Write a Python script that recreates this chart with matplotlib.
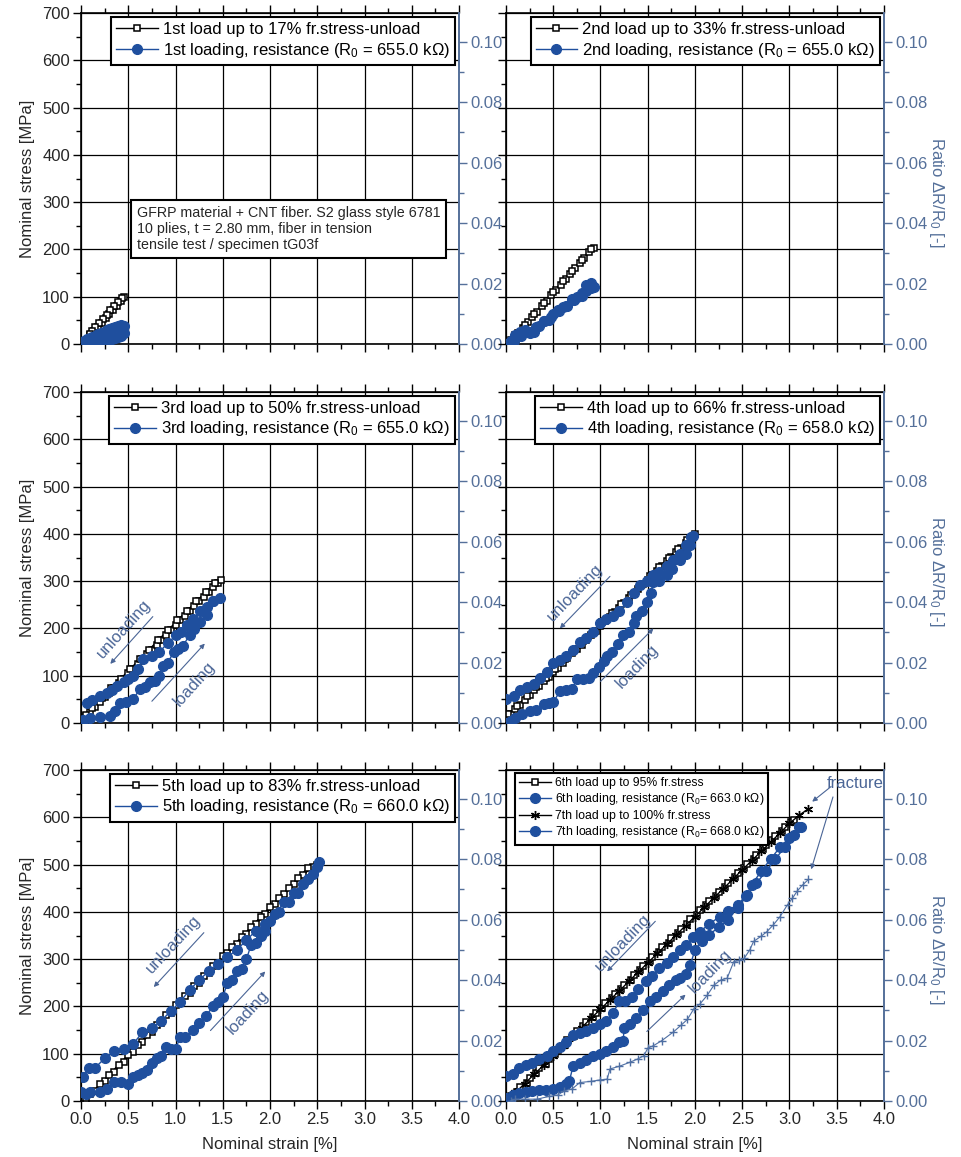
import matplotlib.pyplot as plt
from matplotlib.lines import Line2D
from matplotlib.ticker import MultipleLocator, FormatStrFormatter

plt.rcParams['font.family'] = ['Liberation Sans', 'DejaVu Sans']
plt.rcParams['mathtext.fontset'] = 'custom'
plt.rcParams['mathtext.rm'] = 'Liberation Sans'
plt.rcParams['mathtext.it'] = 'Liberation Sans:italic'

BLUE = '#1f4f9e'
PLUS = '#4f6fa3'
RCOL = '#55709a'
ANN = '#4a6596'
TXT = '#262626'
RMAX = 0.1095

# ---- 1st cycle (17 %) ----
s1_x = [0.05, 0.10, 0.14, 0.18, 0.22, 0.26, 0.30, 0.34, 0.38, 0.42, 0.45,
        0.43, 0.39, 0.35, 0.31, 0.27, 0.23, 0.19, 0.15, 0.12, 0.10]
s1_y = [3, 18, 27, 36, 45, 54, 63, 72, 81, 91, 100,
        97, 89, 80, 71, 62, 53, 44, 35, 28, 22]
r1_x = [0.00, 0.03, 0.06, 0.09, 0.12, 0.15, 0.18, 0.21, 0.24, 0.27, 0.30, 0.33, 0.36, 0.39,
        0.42, 0.45, 0.45, 0.42, 0.39, 0.36, 0.33, 0.30, 0.27, 0.24, 0.21, 0.18, 0.15, 0.12,
        0.09, 0.06, 0.03, 0.00]
r1_y = [0.0000, 0.0002, 0.0003, 0.0003, 0.0005, 0.0008, 0.0008, 0.0010, 0.0012, 0.0012,
        0.0015, 0.0018, 0.0020, 0.0022, 0.0025, 0.0035, 0.0060, 0.0062, 0.0058, 0.0055,
        0.0052, 0.0048, 0.0045, 0.0040, 0.0036, 0.0032, 0.0028, 0.0024, 0.0020, 0.0015,
        0.0010, 0.0005]

# ---- 2nd cycle (33 %) ----
s2_x = [0.03, 0.08, 0.13, 0.18, 0.23, 0.28, 0.33, 0.38, 0.43, 0.48, 0.53, 0.58, 0.63, 0.68,
        0.73, 0.78, 0.83, 0.88, 0.93,
        0.90, 0.80, 0.70, 0.60, 0.50, 0.40, 0.30, 0.20, 0.10, 0.05]
s2_y = [0, 11, 23, 34, 46, 57, 68, 80, 91, 103, 114, 125, 137, 148,
        160, 171, 182, 194, 203,
        200, 178, 155, 133, 110, 87, 64, 41, 19, 8]
r2_x = [0.00, 0.05, 0.10, 0.15, 0.20, 0.25, 0.30, 0.35, 0.40, 0.45, 0.50, 0.55, 0.60, 0.65,
        0.70, 0.75, 0.80, 0.85, 0.90, 0.93, 0.90, 0.85, 0.80, 0.72, 0.64, 0.56, 0.48, 0.40,
        0.32, 0.24, 0.16, 0.08, 0.02]
r2_y = [0.0000, 0.0010, 0.0030, 0.0040, 0.0045, 0.0035, 0.0040, 0.0060, 0.0075, 0.0080,
        0.0100, 0.0113, 0.0124, 0.0125, 0.0150, 0.0157, 0.0168, 0.0195, 0.0201, 0.0190,
        0.0185, 0.0175, 0.0160, 0.0145, 0.0125, 0.0110, 0.0090, 0.0075, 0.0055, 0.0040,
        0.0025, 0.0010, 0.0000]

# ---- 3rd cycle (50 %) ----
s3_x = [0.05, 0.10, 0.15, 0.20, 0.25, 0.30, 0.35, 0.40, 0.45, 0.50, 0.55, 0.60, 0.65, 0.70,
        0.75, 0.80, 0.85, 0.90, 0.95, 1.00, 1.05, 1.10, 1.15, 1.20, 1.25, 1.30, 1.35, 1.40,
        1.45, 1.48,
        1.42, 1.32, 1.22, 1.12, 1.02, 0.92, 0.82, 0.72, 0.62, 0.52, 0.42, 0.32, 0.22, 0.12,
        0.05]
s3_y = [15, 24, 33, 44, 54, 64, 74, 84, 94, 105, 115, 125, 135, 145,
        155, 166, 176, 186, 196, 207, 217, 227, 237, 247, 257, 267, 277, 287,
        297, 303,
        297, 277, 257, 237, 217, 196, 176, 155, 135, 114, 94, 73, 52, 32,
        16]
r3_x = [0.02, 0.10, 0.20, 0.31, 0.36, 0.41, 0.48, 0.55, 0.62, 0.68, 0.73, 0.78, 0.83, 0.87,
        0.92, 0.98, 1.03, 1.08, 1.15, 1.20, 1.26, 1.33, 1.40, 1.47,
        1.40, 1.33, 1.26, 1.19, 1.12, 1.06, 1.01, 0.92, 0.83, 0.75, 0.66, 0.60, 0.55, 0.50,
        0.45, 0.38, 0.33, 0.28, 0.20, 0.12, 0.06]
r3_y = [0.0011, 0.0015, 0.0020, 0.0022, 0.0040, 0.0067, 0.0070, 0.0078, 0.0111, 0.0120,
        0.0135, 0.0140, 0.0156, 0.0189, 0.0200, 0.0235, 0.0245, 0.0256, 0.0291, 0.0310,
        0.0335, 0.0358, 0.0402, 0.0413,
        0.0402, 0.0385, 0.0369, 0.0345, 0.0324, 0.0300, 0.0291, 0.0265, 0.0235, 0.0220,
        0.0213, 0.0180, 0.0156, 0.0145, 0.0135, 0.0124, 0.0110, 0.0100, 0.0089, 0.0075,
        0.0067]

# ---- 4th cycle (66 %) ----
s4_x = [0.00, 0.05, 0.10, 0.15, 0.20, 0.25, 0.30, 0.35, 0.40, 0.45, 0.50, 0.55, 0.60, 0.65,
        0.70, 0.75, 0.80, 0.85, 0.90, 0.95, 1.00, 1.05, 1.10, 1.15, 1.20, 1.25, 1.30, 1.35,
        1.40, 1.45, 1.50, 1.55, 1.60, 1.65, 1.70, 1.75, 1.80, 1.85, 1.90, 1.95, 2.00,
        1.92, 1.82, 1.72, 1.62, 1.52, 1.42, 1.32, 1.22, 1.12, 1.02, 0.92, 0.82, 0.72, 0.62,
        0.52, 0.42, 0.32, 0.22, 0.12, 0.02]
s4_y = [10, 20, 30, 39, 49, 59, 69, 78, 88, 98, 108, 117, 127, 137,
        147, 156, 166, 176, 186, 195, 205, 215, 225, 234, 244, 254, 264, 273,
        283, 293, 303, 312, 322, 332, 342, 351, 361, 371, 381, 390, 400,
        388, 369, 349, 330, 310, 291, 271, 252, 232, 213, 193, 174, 154, 135,
        115, 96, 76, 57, 37, 18]
r4_x = [0.00, 0.05, 0.10, 0.17, 0.25, 0.32, 0.40, 0.45, 0.50, 0.57, 0.63, 0.70, 0.75, 0.82,
        0.88, 0.92, 0.98, 1.04, 1.07, 1.12, 1.18, 1.24, 1.30, 1.35, 1.38, 1.44, 1.49, 1.53,
        1.56, 1.62, 1.70, 1.76, 1.84, 1.90, 1.95, 1.98,
        1.96, 1.90, 1.84, 1.77, 1.70, 1.62, 1.56, 1.49, 1.42, 1.35, 1.28, 1.20, 1.13, 1.06,
        1.00, 0.92, 0.85, 0.78, 0.71, 0.64, 0.57, 0.50, 0.43, 0.36, 0.30, 0.22, 0.15, 0.08,
        0.00]
r4_y = [0.0000, 0.0005, 0.0017, 0.0030, 0.0040, 0.0042, 0.0062, 0.0067, 0.0068, 0.0105,
        0.0108, 0.0112, 0.0144, 0.0147, 0.0150, 0.0167, 0.0185, 0.0205, 0.0220, 0.0235,
        0.0260, 0.0290, 0.0300, 0.0330, 0.0355, 0.0370, 0.0400, 0.0430, 0.0467, 0.0470,
        0.0490, 0.0510, 0.0540, 0.0560, 0.0590, 0.0620,
        0.0615, 0.0590, 0.0560, 0.0540, 0.0520, 0.0500, 0.0490, 0.0470, 0.0456, 0.0430,
        0.0400, 0.0370, 0.0355, 0.0345, 0.0330, 0.0300, 0.0280, 0.0267, 0.0240, 0.0220,
        0.0210, 0.0200, 0.0170, 0.0150, 0.0130, 0.0120, 0.0110, 0.0090, 0.0078]

# ---- 5th cycle (83 %) ----
s5_x = [0.05, 0.15, 0.25, 0.35, 0.45, 0.55, 0.65, 0.75, 0.85, 0.95, 1.05, 1.15, 1.25, 1.35,
        1.45, 1.55, 1.65, 1.75, 1.85, 1.95, 2.05, 2.15, 2.25, 2.35, 2.45, 2.52,
        2.50, 2.40, 2.30, 2.20, 2.10, 2.00, 1.90, 1.80, 1.70, 1.60, 1.50, 1.40, 1.30, 1.20,
        1.10, 1.00, 0.90, 0.80, 0.70, 0.60, 0.50, 0.40, 0.30, 0.20, 0.10]
s5_y = [0, 21, 42, 62, 83, 104, 125, 146, 166, 187, 208, 229, 250, 270,
        291, 312, 333, 354, 374, 395, 416, 437, 458, 478, 495, 502,
        500, 493, 472, 451, 430, 410, 389, 368, 347, 326, 306, 285, 264, 243,
        222, 202, 181, 160, 139, 118, 98, 77, 56, 35, 14]
r5_x = [0.00, 0.05, 0.10, 0.20, 0.27, 0.35, 0.42, 0.50, 0.55, 0.60, 0.65, 0.70, 0.75, 0.80,
        0.85, 0.90, 0.95, 1.00, 1.05, 1.10, 1.18, 1.25, 1.32, 1.40, 1.45, 1.50, 1.55, 1.60,
        1.65, 1.70, 1.75, 1.80, 1.85, 1.90, 1.95, 2.00, 2.10, 2.20, 2.30, 2.40, 2.50,
        2.52, 2.45, 2.35, 2.25, 2.15, 2.05, 1.95, 1.85, 1.75, 1.65, 1.55, 1.45, 1.35, 1.25,
        1.15, 1.05, 0.95, 0.85, 0.75, 0.65, 0.55, 0.45, 0.35, 0.25, 0.15, 0.08, 0.02]
r5_y = [0.0031, 0.0023, 0.0031, 0.0031, 0.0039, 0.0063, 0.0063, 0.0055, 0.0078, 0.0086,
        0.0094, 0.0102, 0.0125, 0.0141, 0.0149, 0.0180, 0.0172, 0.0172, 0.0211, 0.0211,
        0.0235, 0.0258, 0.0282, 0.0313, 0.0328, 0.0344, 0.0391, 0.0399, 0.0430, 0.0438,
        0.0469, 0.0516, 0.0524, 0.0547, 0.0563, 0.0594, 0.0626, 0.0657, 0.0688, 0.0735,
        0.0774,
        0.0790, 0.0751, 0.0719, 0.0688, 0.0657, 0.0618, 0.0587, 0.0563, 0.0532, 0.0500,
        0.0477, 0.0454, 0.0430, 0.0399, 0.0368, 0.0328, 0.0297, 0.0266, 0.0242, 0.0227,
        0.0188, 0.0172, 0.0164, 0.0141, 0.0110, 0.0110, 0.0078]

# ---- 6th cycle (95 %) and 7th loading to fracture ----
s6_x = [0.02, 0.12, 0.22, 0.32, 0.42, 0.52, 0.62, 0.72, 0.82, 0.92, 1.02, 1.12, 1.22, 1.32,
        1.42, 1.52, 1.62, 1.72, 1.82, 1.92, 2.02, 2.12, 2.22, 2.32, 2.42, 2.52, 2.62, 2.72,
        2.82, 2.92, 3.02,
        3.05, 2.95, 2.85, 2.75, 2.65, 2.55, 2.45, 2.35, 2.25, 2.15, 2.05, 1.95, 1.85, 1.75,
        1.65, 1.55, 1.45, 1.35, 1.25, 1.15, 1.05, 0.95, 0.85, 0.75, 0.65, 0.55, 0.45, 0.35,
        0.25, 0.15, 0.05]
s6_y = [0, 20, 39, 59, 79, 99, 118, 138, 158, 177, 197, 217, 236, 256,
        276, 296, 315, 335, 355, 374, 394, 414, 433, 453, 473, 493, 512, 532,
        552, 571, 591,
        595, 580, 561, 541, 521, 502, 482, 462, 443, 423, 403, 384, 364, 344,
        325, 305, 285, 266, 246, 226, 207, 187, 167, 148, 128, 108, 89, 69,
        49, 30, 10]
s7_x = [0.00, 0.10, 0.20, 0.30, 0.40, 0.50, 0.60, 0.70, 0.80, 0.90, 1.00, 1.10, 1.20, 1.30,
        1.40, 1.50, 1.60, 1.70, 1.80, 1.90, 2.00, 2.10, 2.20, 2.30, 2.40, 2.50, 2.60, 2.70,
        2.80, 2.90, 3.00, 3.10, 3.20]
s7_y = [0, 18, 37, 57, 76, 96, 116, 135, 155, 175, 194, 214, 233, 253,
        273, 292, 312, 331, 351, 371, 390, 410, 430, 449, 469, 489, 508, 528,
        547, 567, 587, 604, 618]
r6_x = [0.00, 0.07, 0.14, 0.21, 0.28, 0.35, 0.42, 0.50, 0.57, 0.64, 0.67, 0.71, 0.78, 0.85,
        0.92, 0.99, 1.06, 1.13, 1.20, 1.24, 1.25, 1.31, 1.38, 1.45, 1.52, 1.59, 1.66, 1.73,
        1.80, 1.84, 1.91, 1.95, 2.00, 2.07, 2.15, 2.25, 2.35, 2.45, 2.55, 2.65, 2.75, 2.85,
        2.95, 3.05, 3.12,
        3.10, 3.00, 2.90, 2.80, 2.70, 2.60, 2.54, 2.45, 2.35, 2.26, 2.15, 2.05, 1.98, 1.90,
        1.84, 1.77, 1.70, 1.62, 1.55, 1.48, 1.40, 1.33, 1.26, 1.20, 1.13, 1.06, 1.00, 0.92,
        0.85, 0.78, 0.71, 0.64, 0.57, 0.50, 0.43, 0.35, 0.28, 0.21, 0.14, 0.07, 0.00]
r6_y = [0.0010, 0.0020, 0.0026, 0.0030, 0.0032, 0.0035, 0.0037, 0.0040, 0.0045, 0.0055,
        0.0065, 0.0116, 0.0125, 0.0135, 0.0149, 0.0155, 0.0166, 0.0180, 0.0195, 0.0200,
        0.0240, 0.0255, 0.0273, 0.0300, 0.0330, 0.0345, 0.0364, 0.0385, 0.0400, 0.0408,
        0.0420, 0.0450, 0.0500, 0.0530, 0.0550, 0.0575, 0.0600, 0.0640, 0.0680, 0.0720,
        0.0760, 0.0800, 0.0840, 0.0880, 0.0905,
        0.0905, 0.0870, 0.0840, 0.0800, 0.0760, 0.0715, 0.0678, 0.0650, 0.0630, 0.0610,
        0.0585, 0.0560, 0.0543, 0.0515, 0.0500, 0.0476, 0.0455, 0.0440, 0.0415, 0.0398,
        0.0370, 0.0345, 0.0330, 0.0330, 0.0290, 0.0263, 0.0255, 0.0240, 0.0230, 0.0225,
        0.0217, 0.0195, 0.0180, 0.0165, 0.0150, 0.0138, 0.0125, 0.0120, 0.0110, 0.0090,
        0.0082]
r7_x = [0.05, 0.10, 0.20, 0.33, 0.45, 0.55, 0.61, 0.70, 0.78, 0.90, 1.00, 1.07, 1.10, 1.20,
        1.31, 1.40, 1.46, 1.50, 1.56, 1.65, 1.77, 1.85, 1.92, 1.99, 2.05, 2.13, 2.20, 2.27,
        2.34, 2.41, 2.47, 2.52, 2.58, 2.62, 2.70, 2.76, 2.83, 2.90, 2.98, 3.03, 3.08, 3.14,
        3.20]
r7_y = [0.0000, 0.0006, 0.0006, 0.0006, 0.0015, 0.0020, 0.0033, 0.0040, 0.0061, 0.0065,
        0.0070, 0.0072, 0.0106, 0.0115, 0.0128, 0.0140, 0.0150, 0.0175, 0.0183, 0.0200,
        0.0228, 0.0250, 0.0270, 0.0306, 0.0320, 0.0350, 0.0383, 0.0400, 0.0406, 0.0461,
        0.0465, 0.0472, 0.0500, 0.0528, 0.0545, 0.0560, 0.0583, 0.0610, 0.0650, 0.0670,
        0.0694, 0.0715, 0.0733]

legend_load = ['1st load up to 17% fr.stress-unload', '2nd load up to 33% fr.stress-unload',
               '3rd load up to 50% fr.stress-unload', '4th load up to 66% fr.stress-unload',
               '5th load up to 83% fr.stress-unload']
legend_res = ['1st loading, resistance', '2nd loading, resistance', '3rd loading, resistance',
              '4th loading, resistance', '5th loading, resistance']
r0_kohm = [655.0, 655.0, 655.0, 658.0, 660.0]

fig = plt.figure(figsize=(9.62, 11.57), dpi=100)

col_x = [81 / 962, 506 / 962]
col_w = 378 / 962
row_y = [1 - 344 / 1157, 1 - 723 / 1157, 1 - 1101 / 1157]
row_h = 331 / 1157


def make_panel(row, col):
    ax = fig.add_axes([col_x[col], row_y[row], col_w, row_h])
    ax.set_xlim(0, 4)
    ax.set_ylim(0, 700)
    ax.xaxis.set_major_locator(MultipleLocator(0.5))
    ax.xaxis.set_minor_locator(MultipleLocator(0.25))
    ax.yaxis.set_major_locator(MultipleLocator(100))
    ax.yaxis.set_minor_locator(MultipleLocator(50))
    ax.xaxis.set_major_formatter(FormatStrFormatter('%.1f'))
    ax.grid(True, which='major', color='black', lw=0.9)
    ax.set_axisbelow(True)
    ax.tick_params(which='both', direction='out', top=True, right=False,
                   colors='black', labelcolor=TXT, labelsize=12, width=1)
    ax.tick_params(which='major', length=6, pad=2)
    ax.tick_params(which='minor', length=3.5)
    for s in ['left', 'top', 'bottom']:
        ax.spines[s].set_linewidth(1.2)
    ax.spines['right'].set_visible(False)
    if col == 0:
        ax.set_ylabel('Nominal stress [MPa]', fontsize=12, color=TXT, labelpad=5)
    else:
        ax.tick_params(labelleft=False)
    if row == 2:
        ax.set_xlabel('Nominal strain [%]', fontsize=12, color=TXT, labelpad=7)
    else:
        ax.tick_params(labelbottom=False)

    ax2 = ax.twinx()
    ax2.set_ylim(0, RMAX)
    ax2.yaxis.set_major_locator(MultipleLocator(0.02))
    ax2.yaxis.set_minor_locator(MultipleLocator(0.01))
    ax2.yaxis.set_major_formatter(FormatStrFormatter('%.2f'))
    ax2.tick_params(which='both', direction='out', colors=RCOL, labelsize=12, width=1)
    ax2.tick_params(which='major', length=6, pad=2)
    ax2.tick_params(which='minor', length=3.5)
    for s in ['left', 'top', 'bottom']:
        ax2.spines[s].set_visible(False)
    ax2.spines['right'].set_color(RCOL)
    ax2.spines['right'].set_linewidth(1.4)
    if col == 1:
        ax2.set_ylabel('Ratio $\\Delta$R/R$_0$ [-]', fontsize=12, color=RCOL,
                       rotation=270, labelpad=14)
        ax2.yaxis.set_label_coords(1.165, 0.46)
    return ax, ax2


def arrow_note(ax, text, xy_from, xy_to, text_xy, rot):
    ax.annotate('', xy=xy_to, xytext=xy_from,
                arrowprops=dict(arrowstyle='-|>', color=ANN, lw=0.8, mutation_scale=7,
                                shrinkA=0, shrinkB=0))
    if text:
        ax.text(text_xy[0], text_xy[1], text, rotation=rot, color=ANN, fontsize=12,
                ha='center', va='center', rotation_mode='anchor')


black_kw = dict(color='black', lw=1.0, marker='s', ms=5, mfc='white', mec='black', mew=1.1)
blue_kw = dict(color=BLUE, lw=1.0, marker='o', ms=7, mfc=BLUE, mec=BLUE)

stress_x = [s1_x, s2_x, s3_x, s4_x, s5_x]
stress_y = [s1_y, s2_y, s3_y, s4_y, s5_y]
ratio_x = [r1_x, r2_x, r3_x, r4_x, r5_x]
ratio_y = [r1_y, r2_y, r3_y, r4_y, r5_y]

axes = []
for i in range(5):
    row, col = divmod(i, 2)
    ax, ax2 = make_panel(row, col)
    hb, = ax.plot(stress_x[i], stress_y[i], **black_kw)
    hr, = ax2.plot(ratio_x[i], ratio_y[i], **blue_kw)
    hb.set_label(legend_load[i])
    hr.set_label('%s (R$_0$ = %.1f k\u03a9)' % (legend_res[i], r0_kohm[i]))
    leg = ax2.legend(handles=[hb, hr], loc='upper right', fontsize=12, frameon=True,
                     fancybox=False, framealpha=1, edgecolor='black', handlelength=2.5,
                     handletextpad=0.3, borderpad=0.3, labelspacing=0.2,
                     borderaxespad=0.25, numpoints=1)
    leg.get_frame().set_linewidth(1.5)
    axes.append((ax, ax2))

# specimen description
axes[0][1].text(0.148, 0.418,
                'GFRP material + CNT fiber. S2 glass style 6781\n'
                '10 plies, t = 2.80 mm, fiber in tension\n'
                'tensile test / specimen tG03f',
                transform=axes[0][1].transAxes, fontsize=10.3, color=TXT, va='top', ha='left',
                linespacing=1.2,
                bbox=dict(boxstyle='square,pad=0.4', fc='white', ec='black', lw=1.5))

# direction arrows
arrow_note(axes[2][0], 'unloading', (0.76, 225), (0.31, 125), (0.45, 200), 48)
arrow_note(axes[2][0], 'loading', (0.75, 46), (1.31, 168), (1.20, 82), 48)
arrow_note(axes[3][0], 'unloading', (1.10, 310), (0.57, 200), (0.73, 275), 46)
arrow_note(axes[3][0], 'loading', (1.00, 88), (1.56, 200), (1.39, 120), 46)
arrow_note(axes[4][0], 'unloading', (1.30, 356), (0.77, 241), (0.98, 331), 47)
arrow_note(axes[4][0], 'loading', (1.37, 149), (1.95, 274), (1.77, 188), 47)

# last panel: 6th cycle and 7th loading to fracture
ax6, ax6r = make_panel(2, 1)
h6, = ax6.plot(s6_x, s6_y, **black_kw)
h7, = ax6.plot(s7_x, s7_y, color='black', lw=1.0, marker=(6, 2, 0), ms=6.5, mec='black',
               mew=1.0)
h6r, = ax6r.plot(r6_x, r6_y, **blue_kw)
ax6r.plot(r7_x, r7_y, color=PLUS, lw=0.8, marker='+', ms=6, mew=1.0)
h7r = Line2D([], [], **blue_kw)
leg6 = ax6r.legend([h6, h6r, h7, h7r],
                   ['6th load up to 95% fr.stress',
                    '6th loading, resistance (R$_0$= 663.0 k\u03a9)',
                    '7th load up to 100% fr.stress',
                    '7th loading, resistance (R$_0$= 668.0 k\u03a9)'],
                   loc='upper left', bbox_to_anchor=(0.024, 0.992), fontsize=8.8,
                   frameon=True, fancybox=False, framealpha=1, edgecolor='black',
                   handlelength=2.6, handletextpad=0.3, borderpad=0.35, labelspacing=0.2,
                   borderaxespad=0.0, numpoints=1)
leg6.get_frame().set_linewidth(1.5)

arrow_note(ax6, 'unloading', (1.58, 380), (1.07, 274), (1.24, 335), 46)
arrow_note(ax6, 'loading', (1.49, 147), (1.90, 225), (2.16, 274), 46)
arrow_note(ax6, None, (3.44, 665), (3.24, 633), None, 0)
arrow_note(ax6, None, (3.46, 643), (3.23, 490), None, 0)
ax6.text(3.70, 671, 'fracture', color=ANN, fontsize=12, ha='center', va='center')

fig.savefig('out.png', dpi=100)
